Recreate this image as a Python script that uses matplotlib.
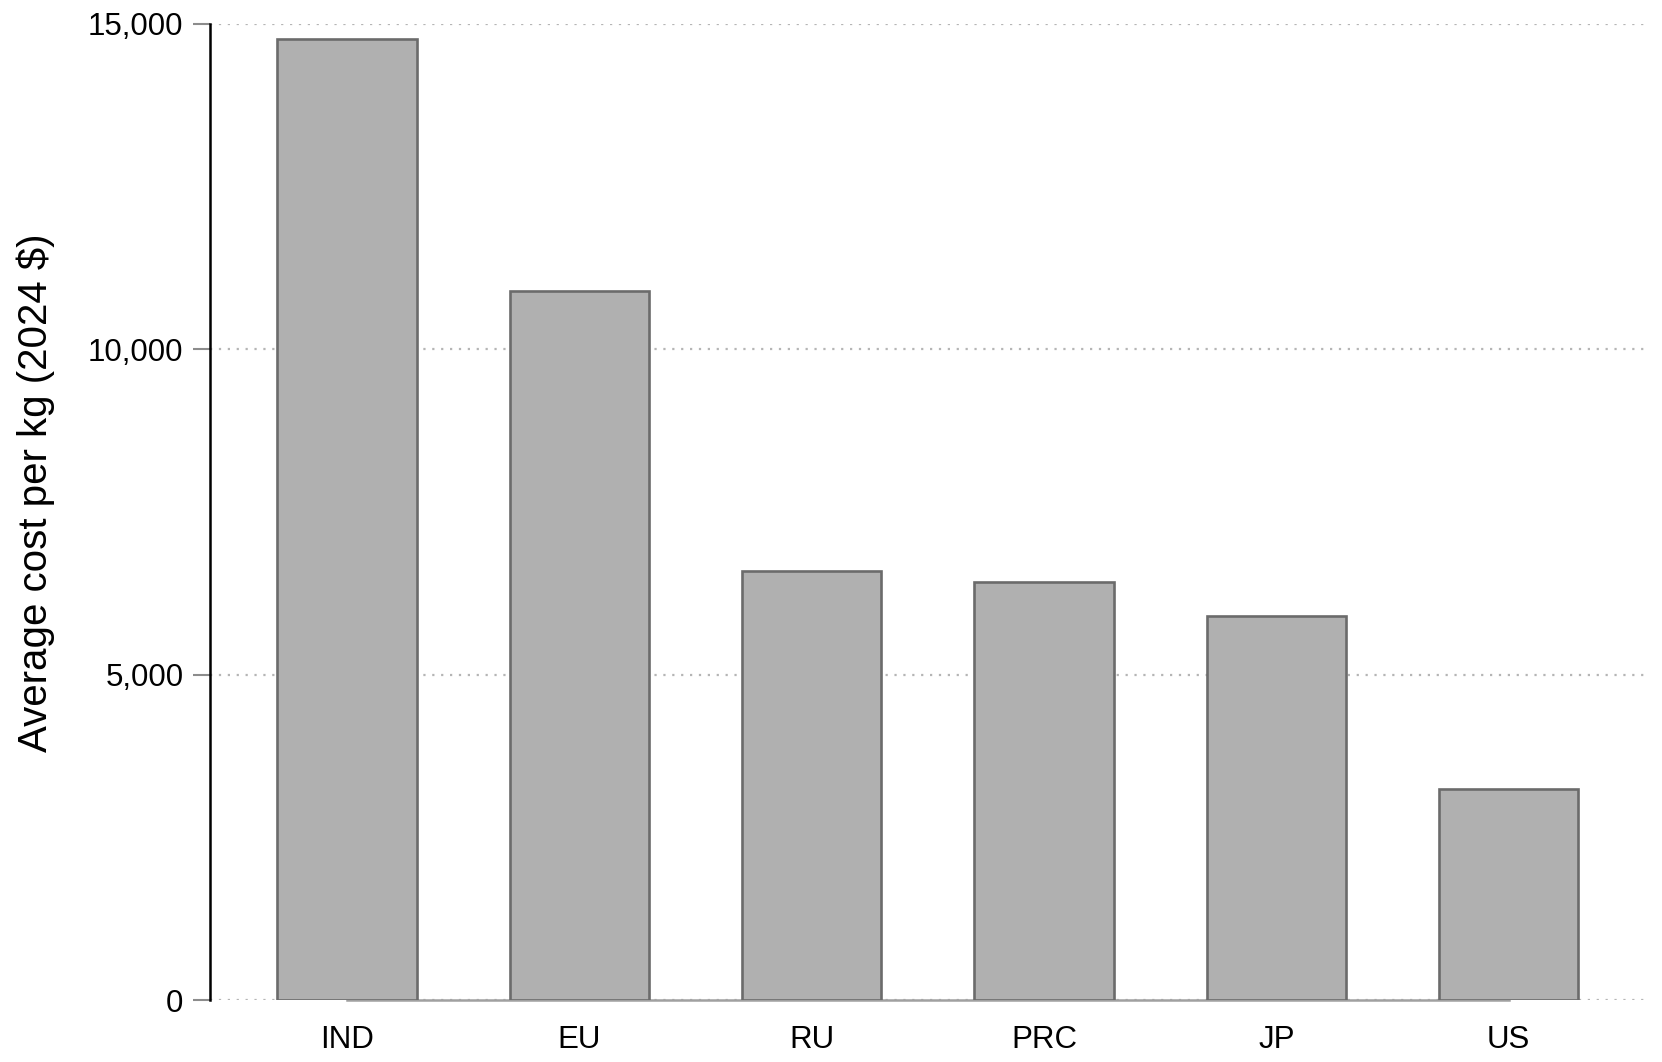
import numpy as np
import matplotlib
matplotlib.use("Agg")
import matplotlib.pyplot as plt

# Font setup (Arial-like look)
plt.rcParams['font.family'] = ['Liberation Sans', 'DejaVu Sans']

# Data
regions = ["IND", "EU", "RU", "PRC", "JP", "US"]
avg_cost = [14770, 10900, 6590, 6430, 5900, 3250]
y_ticks = [0, 5000, 10000, 15000]

TICK_SIZE = 22.5
LABEL_SIZE = 29

fig = plt.figure(figsize=(16.62, 10.62), dpi=100)
ax = fig.add_axes([210 / 1662, 1 - 1000 / 1062, (1648 - 210) / 1662, 976 / 1062])

x = np.arange(len(regions))
ax.bar(x, avg_cost, width=0.6, color="#b0b0b0", edgecolor="#6b6b6b",
       linewidth=1.9, zorder=3)

# Dotted horizontal grid
for yv in y_ticks:
    ax.axhline(yv, color="#b5b5b5", linestyle=(0, (1, 3)), linewidth=1.6, zorder=1)

ax.set_xlim(-0.59, 5.6)
ax.set_ylim(0, 15000)
ax.set_xticks(x)
ax.set_xticklabels(regions, fontsize=TICK_SIZE)
ax.set_yticks(y_ticks)
ax.set_yticklabels([f"{v:,}" for v in y_ticks], fontsize=TICK_SIZE)

ax.tick_params(axis='x', length=0, pad=18)
ax.tick_params(axis='y', length=12, width=1.5, color="#8c8c8c", pad=7)

# Spines: black y axis, grey x axis between first and last category
for s in ["top", "right"]:
    ax.spines[s].set_visible(False)
ax.spines["left"].set_color("black")
ax.spines["left"].set_linewidth(1.8)
ax.spines["bottom"].set_color("#a0a0a0")
ax.spines["bottom"].set_linewidth(1.8)
ax.spines["bottom"].set_bounds(0, 5)
ax.spines["bottom"].set_zorder(2)

ax.set_ylabel("Average cost per kg (2024 $)", fontsize=LABEL_SIZE)
ax.yaxis.set_label_coords(-0.108, 0.52)

plt.savefig("out.png", dpi=100)
